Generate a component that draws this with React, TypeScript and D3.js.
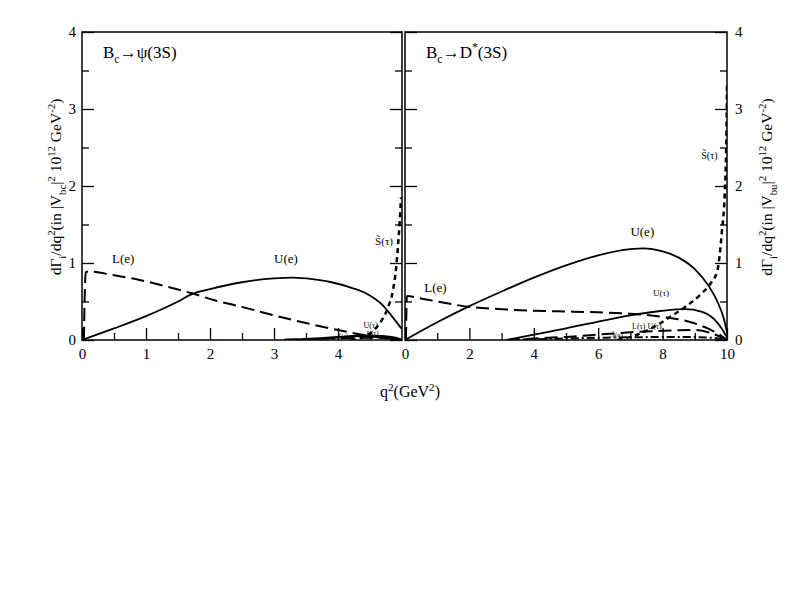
import React, { useEffect, useRef } from 'react';
import * as d3 from 'd3';

type Pt = [number, number];

// B_c -> psi(3S), q^2 in GeV^2, dGamma/dq^2
const psiUe: Pt[] = [[0, 0], [0.5, 0.15], [1, 0.31], [1.5, 0.5], [1.7, 0.59], [2, 0.66], [2.5, 0.75], [3, 0.8], [3.3, 0.81], [3.6, 0.79], [3.9, 0.75], [4.2, 0.68], [4.45, 0.6], [4.7, 0.45], [4.85, 0.3], [4.99, 0.15]];
const psiLe: Pt[] = [[0.03, 0], [0.04, 0.5], [0.06, 0.88], [0.1, 0.89], [0.5, 0.84], [0.9, 0.78], [1.3, 0.7], [1.7, 0.61], [2.1, 0.51], [2.5, 0.43], [3, 0.32], [3.5, 0.22], [4, 0.13], [4.5, 0.05], [4.99, 0]];
const psiUt: Pt[] = [[3.16, 0], [3.5, 0.01], [4, 0.035], [4.4, 0.055], [4.7, 0.05], [4.9, 0.025], [4.99, 0]];
const psiLt: Pt[] = [[3.16, 0], [3.6, 0.012], [4.1, 0.025], [4.5, 0.03], [4.8, 0.02], [4.99, 0]];
const psiSt: Pt[] = [[4.2, 0], [4.4, 0.04], [4.55, 0.12], [4.68, 0.25], [4.78, 0.42], [4.86, 0.65], [4.91, 0.95], [4.94, 1.25], [4.965, 1.55], [4.985, 1.85]];

// B_c -> D*(3S)
const dUe: Pt[] = [[0, 0], [1, 0.23], [2, 0.44], [3, 0.63], [4, 0.81], [5, 0.97], [6, 1.1], [7, 1.18], [7.4, 1.19], [8, 1.15], [8.5, 1.07], [9, 0.92], [9.4, 0.72], [9.7, 0.5], [9.9, 0.28], [10, 0.1]];
const dLe: Pt[] = [[0.03, 0], [0.04, 0.3], [0.06, 0.57], [0.5, 0.54], [1, 0.5], [2, 0.43], [3, 0.4], [4, 0.38], [5, 0.37], [6, 0.36], [7, 0.34], [8, 0.3], [8.8, 0.24], [9.4, 0.15], [9.8, 0.06], [10, 0]];
const dUt: Pt[] = [[3.16, 0], [4, 0.07], [5, 0.15], [6, 0.24], [7, 0.32], [8, 0.38], [8.7, 0.4], [9.2, 0.37], [9.6, 0.27], [9.85, 0.14], [10, 0.03]];
const dLt: Pt[] = [[3.16, 0], [4, 0.02], [5, 0.04], [6, 0.07], [7, 0.1], [8, 0.12], [9, 0.13], [9.5, 0.09], [9.8, 0.04], [10, 0]];
const dSe: Pt[] = [[3.16, 0], [5, 0.02], [7, 0.035], [8.5, 0.04], [9.5, 0.03], [10, 0]];
const dSt: Pt[] = [[6.6, 0], [7, 0.04], [7.6, 0.14], [8.2, 0.29], [8.7, 0.43], [9.2, 0.6], [9.5, 0.74], [9.7, 0.9], [9.84, 1.4], [9.93, 1.9], [9.97, 2.4], [9.99, 2.9], [10, 3.35]];

const yTicks = [0, 1, 2, 3, 4];
const psiXTicks = [0, 1, 2, 3, 4];
const dXTicks = [0, 2, 4, 6, 8, 10];

const FONT = '"Liberation Serif", "Times New Roman", serif';
const SOLID = '';
const DASH = '13,6';
const DOT = '5,4';
const DASHDOT = '8,3,2,3';
const TILDE = '\u0303';

type Seg = [string, 'n' | 'sub' | 'sup'];

function richText(sel: any, segs: Seg[], size: number) {
  let cur = 0;
  segs.forEach(([t, k]) => {
    const shift = k === 'sub' ? size * 0.3 : k === 'sup' ? -size * 0.4 : 0;
    sel.append('tspan')
      .attr('dy', shift - cur)
      .attr('font-size', k === 'n' ? size : size * 0.7)
      .text(t);
    cur = shift;
  });
}

const panels = [
  {
    x0: 82, x1: 402, qmax: 5, majors: psiXTicks, minorStep: 0.5, side: 'left',
    title: [['B', 'n'], ['c', 'sub'], ['\u2192\u03c8(3S)', 'n']] as Seg[],
    curves: [
      { data: psiUe, dash: SOLID, w: 1.8 },
      { data: psiLe, dash: DASH, w: 2 },
      { data: psiUt, dash: SOLID, w: 2.5 },
      { data: psiLt, dash: DASH, w: 2 },
      { data: psiSt, dash: DOT, w: 2.5 },
    ],
    labels: [
      { t: 'L(e)', q: 0.47, v: 1.0, s: 13 },
      { t: 'U(e)', q: 3.0, v: 1.0, s: 13 },
      { t: 'S' + TILDE + '(\u03c4)', q: 4.58, v: 1.23, s: 11 },
      { t: 'U(\u03c4)', q: 4.4, v: 0.16, s: 8 },
      { t: 'L(\u03c4)', q: 4.45, v: 0.06, s: 7 },
      { t: 'S' + TILDE + '(e)', q: 4.0, v: 0.02, s: 6 },
    ],
  },
  {
    x0: 405, x1: 727, qmax: 10, majors: dXTicks, minorStep: 1, side: 'right',
    title: [['B', 'n'], ['c', 'sub'], ['\u2192D', 'n'], ['*', 'sup'], ['(3S)', 'n']] as Seg[],
    curves: [
      { data: dUe, dash: SOLID, w: 1.8 },
      { data: dLe, dash: DASH, w: 2 },
      { data: dUt, dash: SOLID, w: 1.8 },
      { data: dLt, dash: DASH, w: 2 },
      { data: dSe, dash: DASHDOT, w: 2 },
      { data: dSt, dash: DOT, w: 2.5 },
    ],
    labels: [
      { t: 'L(e)', q: 0.6, v: 0.62, s: 13 },
      { t: 'U(e)', q: 7.0, v: 1.35, s: 13 },
      { t: 'S' + TILDE + '(\u03c4)', q: 9.2, v: 2.35, s: 10 },
      { t: 'U(\u03c4)', q: 7.7, v: 0.57, s: 9 },
      { t: 'L(\u03c4) U(\u03c4)', q: 7.05, v: 0.14, s: 8 },
      { t: 'S' + TILDE + '(e)', q: 6.4, v: 0.045, s: 7 },
    ],
  },
];

export default function App() {
  const ref = useRef<SVGSVGElement>(null);

  useEffect(() => {
    const svg = d3.select(ref.current);
    svg.selectAll('*').remove();
    svg.append('rect').attr('width', 792).attr('height', 612).attr('fill', 'white');

    const y = d3.scaleLinear().domain([0, 4]).range([340, 32]);

    panels.forEach((p, i) => {
      const x = d3.scaleLinear().domain([0, p.qmax]).range([p.x0, p.x1]);
      const g = svg.append('g');
      const clipId = 'clip' + i;
      svg.append('clipPath').attr('id', clipId)
        .append('rect').attr('x', p.x0).attr('y', 32).attr('width', p.x1 - p.x0).attr('height', 308);

      const line = d3.line<Pt>()
        .x(d => x(d[0]))
        .y(d => y(d[1]))
        .curve(d3.curveMonotoneX);

      g.append('g').attr('clip-path', `url(#${clipId})`)
        .selectAll('path')
        .data(p.curves)
        .enter()
        .append('path')
        .attr('d', d => line(d.data))
        .attr('fill', 'none')
        .attr('stroke', 'black')
        .attr('stroke-width', d => d.w)
        .attr('stroke-dasharray', d => d.dash || null);

      const minors = d3.range(0, p.qmax + 1e-9, p.minorStep).filter(v => !p.majors.includes(v) && v > 0 && v < p.qmax);
      const yMinors = [0.5, 1.5, 2.5, 3.5];

      const style = (a: any) => {
        a.select('.domain').remove();
        a.selectAll('line').attr('stroke', 'black').attr('stroke-width', 1.3);
        a.selectAll('text').attr('font-family', FONT).attr('font-size', 15).attr('fill', 'black');
      };

      g.append('g').attr('transform', 'translate(0,340)')
        .call(d3.axisBottom(x).tickValues(p.majors).tickSizeInner(-12).tickSizeOuter(0).tickPadding(8).tickFormat(d3.format('d')))
        .call(style);
      g.append('g').attr('transform', 'translate(0,340)')
        .call(d3.axisBottom(x).tickValues(minors).tickSizeInner(-7).tickSizeOuter(0).tickFormat(() => ''))
        .call(style);

      g.append('g').attr('transform', `translate(${p.x0},0)`)
        .call(d3.axisLeft(y).tickValues(yTicks).tickSizeInner(-12).tickSizeOuter(0).tickPadding(6)
          .tickFormat(p.side === 'left' ? d3.format('d') : () => ''))
        .call(style);
      g.append('g').attr('transform', `translate(${p.x0},0)`)
        .call(d3.axisLeft(y).tickValues(yMinors).tickSizeInner(-7).tickSizeOuter(0).tickFormat(() => ''))
        .call(style);
      g.append('g').attr('transform', `translate(${p.x1},0)`)
        .call(d3.axisRight(y).tickValues(yTicks).tickSizeInner(-12).tickSizeOuter(0).tickPadding(8)
          .tickFormat(p.side === 'right' ? d3.format('d') : () => ''))
        .call(style);
      g.append('g').attr('transform', `translate(${p.x1},0)`)
        .call(d3.axisRight(y).tickValues(yMinors).tickSizeInner(-7).tickSizeOuter(0).tickFormat(() => ''))
        .call(style);

      g.append('rect')
        .attr('x', p.x0).attr('y', 32)
        .attr('width', p.x1 - p.x0).attr('height', 308)
        .attr('fill', 'none').attr('stroke', 'black').attr('stroke-width', 1.5);

      const title = g.append('text')
        .attr('x', p.x0 + 21).attr('y', 58)
        .attr('font-family', FONT).attr('fill', 'black');
      richText(title, p.title, 17);

      p.labels.forEach(l => {
        g.append('text')
          .attr('x', x(l.q)).attr('y', y(l.v))
          .attr('font-family', FONT).attr('font-size', l.s)
          .text(l.t);
      });
    });

    const yTitle = (xPos: number, sub: string) => {
      const t = svg.append('text')
        .attr('transform', `translate(${xPos},187) rotate(-90)`)
        .attr('text-anchor', 'middle')
        .attr('font-family', FONT).attr('fill', 'black');
      richText(t, [
        ['d\u0393', 'n'], ['i', 'sub'], ['/dq', 'n'], ['2', 'sup'], ['(in |V', 'n'], [sub, 'sub'],
        ['|', 'n'], ['2', 'sup'], [' 10', 'n'], ['12', 'sup'], [' GeV', 'n'], ['-2', 'sup'], [')', 'n'],
      ], 15.5);
    };
    yTitle(61, 'bc');
    yTitle(772, 'bu');

    const xTitle = svg.append('text')
      .attr('x', 410).attr('y', 397)
      .attr('text-anchor', 'middle')
      .attr('font-family', FONT).attr('fill', 'black');
    richText(xTitle, [['q', 'n'], ['2', 'sup'], ['(GeV', 'n'], ['2', 'sup'], [')', 'n']], 16);
  }, []);

  return (
    <svg ref={ref} width={792} height={612} style={{ position: 'absolute', left: 0, top: 0 }} />
  );
}
